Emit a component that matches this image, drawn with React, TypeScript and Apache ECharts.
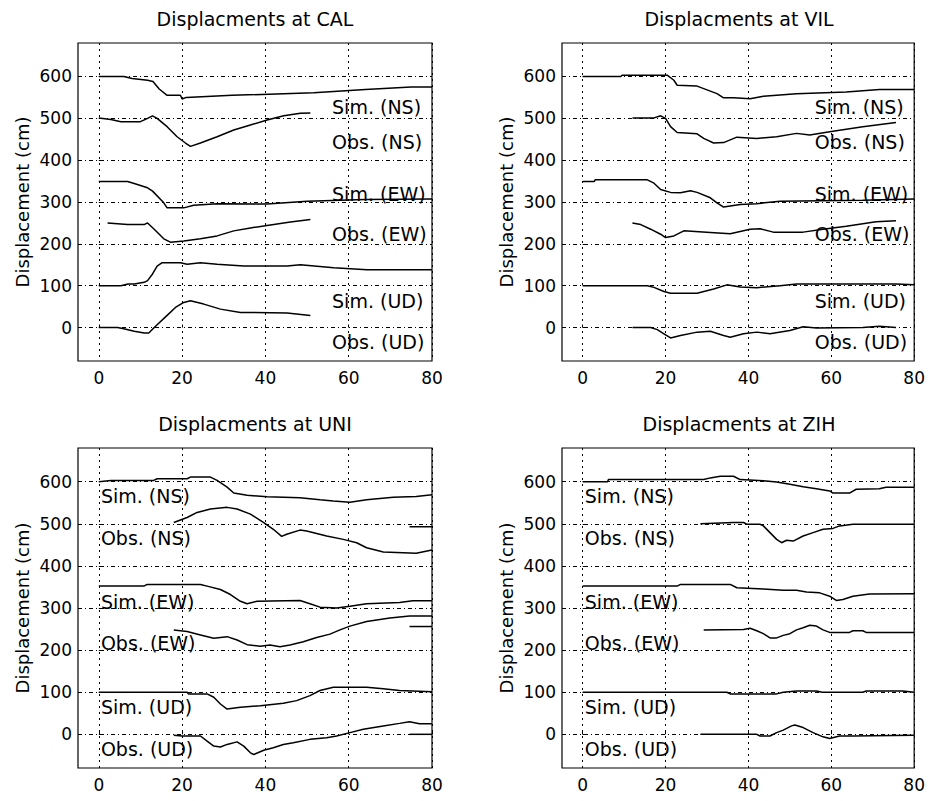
import React, { useEffect, useRef } from "react";
import * as echarts from "echarts";

const xTicks = [0, 20, 40, 60, 80];
const yTicks = [0, 100, 200, 300, 400, 500, 600];
const stations = ["CAL", "VIL", "UNI", "ZIH"];
const curveNames = ["Sim. (NS)", "Obs. (NS)", "Sim. (EW)", "Obs. (EW)", "Sim. (UD)", "Obs. (UD)"];

// label anchor positions [t, value] per station
const labelPosTop = [[56, 527], [56, 444], [56, 318], [56, 223], [56, 64], [56, -35]];
const labelPosBottom = [[0.5, 567], [0.5, 467], [0.5, 315], [0.5, 216], [0.5, 64], [0.5, -36]];

// ---- CAL ----
const calSimNS = [[0,600],[6,600],[8,595],[11.7,591],[13,588],[14.5,570],[16.4,555],[19.6,555],[20,546],[21,550],[32,555],[51.6,561],[64,569],[75,575],[80,575]];
const calObsNS = [[0,501],[2.9,497],[5.3,492],[10,492],[11.7,500],[12.9,506],[14,500],[16.4,480],[18.8,456],[20.8,441],[22,433],[24.4,441],[28.4,456],[32.4,472],[36.4,484],[40.4,496],[44.4,506],[48.4,512],[50.8,513]];
const calSimEW = [[0,349],[6.9,349],[8.5,344],[11.7,334],[12.9,326],[15.6,298],[16.4,286],[20.4,286],[22.8,292],[28.4,296],[40.4,295],[50,302],[64,306],[80,307]];
const calObsEW = [[2.1,250],[6.9,246],[10.9,246],[11.7,250],[13.3,235],[15.6,212],[17.2,204],[20.4,207],[24.4,212],[28.4,219],[32.4,231],[36.4,238],[40.4,244],[46,252],[50.8,258]];
const calSimUD = [[0,100],[5.3,100],[7,104],[8.5,104],[10.9,108],[11.7,112],[12.9,128],[14,147],[15.2,155],[19.6,155],[21.2,151],[24.4,155],[28.4,151],[34.8,147],[45.2,147],[48.4,150],[56.4,143],[64.4,138],[80,138]];
const calObsUD = [[0,0],[4.5,0],[6,-3],[8.5,-9],[10.9,-13],[12,-13],[13.3,0],[16.4,29],[18.4,48],[20.4,60],[22,64],[25.2,56],[29.2,44],[34,36],[45.2,35],[50.8,29]];

// ---- VIL ----
const vilSimNS = [[0,600],[9.2,600],[9.5,603],[20.4,603],[22,591],[22.8,579],[27.6,577],[29.2,571],[32.4,559],[34,549],[36.4,549],[40.4,547],[43.6,553],[51.6,559],[63.6,563],[71.6,569],[80,569]];
const vilObsNS = [[12,501],[17.2,501],[18.8,506],[20,500],[21.2,480],[22.8,466],[27.6,463],[29.2,452],[31.6,441],[34,442],[37.2,455],[42,452],[46.8,456],[51.6,464],[54.8,460],[59.6,468],[67.6,480],[75.6,490]];
const vilSimEW = [[0,349],[2.8,349],[3,353],[15.6,353],[17.2,345],[18.8,330],[21.2,323],[23.6,322],[26,327],[27.6,323],[30.8,310],[32.4,298],[34,288],[38,294],[42,296],[47.6,302],[67.6,304],[80,307]];
const vilObsEW = [[12,250],[14,246],[16.4,235],[18.8,223],[20,215],[22,219],[24.4,231],[30.8,227],[35.6,224],[40.4,235],[42.8,236],[46,228],[53.2,228],[58,235],[63.6,242],[70.8,253],[75.6,255]];
const vilSimUD = [[0,100],[15.6,100],[17.2,96],[19.6,86],[21.2,82],[27.6,82],[31.6,92],[34.8,102],[38,97],[42,95],[47.6,100],[51.6,104],[75.6,104],[80,102]];
const vilObsUD = [[12,0],[16.4,0],[18,-5],[19.6,-15],[21.2,-25],[23.6,-19],[27.6,-11],[30.8,-9],[34,-19],[35.6,-23],[38.8,-15],[42,-11],[45.2,-15],[50,-7],[53.2,2],[56.4,-1],[67.6,0],[71.6,3],[75.6,0]];

// ---- UNI ----
const uniSimNS = [[0,600],[2.9,603],[13.2,603],[14,607],[21.2,607],[22,611],[26.8,611],[28.4,603],[30.8,587],[32.4,573],[35.6,568],[40.4,564],[48.3,562],[53.1,557],[56.3,554],[60.3,551],[64.3,557],[70.7,563],[76.2,565],[80,569]];
const uniObsNS = [[18,503],[21.2,515],[23.6,527],[26.8,535],[30.8,539],[33.2,535],[36.4,523],[39.6,503],[41.9,487],[43.9,470],[45.1,475],[48.3,485],[49.9,483],[54.7,471],[58.7,463],[61.9,455],[64.3,443],[68.3,433],[76.2,430],[80,438]];
const uniObsNSStatic = [[74.6,493],[80,493]];
const uniSimEW = [[0,352],[10.8,352],[11.6,356],[24.4,356],[26,352],[29.2,344],[31.6,332],[34,316],[35.6,310],[38,316],[48.3,318],[50.7,310],[53.1,302],[57.1,300],[60.3,304],[64.3,310],[72.2,313],[75.4,317],[80,317]];
const uniObsEW = [[18,248],[21.2,244],[24.4,236],[27.6,228],[30.8,232],[33.2,224],[35.6,213],[38.8,209],[41.1,212],[43.5,208],[45.9,212],[49.1,220],[52.3,230],[55.5,238],[57.9,248],[60.3,257],[64.3,268],[69.9,276],[74.6,281],[80,281]];
const uniObsEWStatic = [[74.6,256],[80,256]];
const uniSimUD = [[0,100],[21.2,100],[21.5,96],[26,96],[27.6,88],[29.2,72],[30.8,60],[34,64],[38.8,68],[44.3,74],[47.5,80],[50.7,92],[53.1,104],[56.3,112],[64.3,112],[68.3,108],[72.2,104],[80,101]];
const uniObsUD = [[18,-2],[20,-4],[24.4,-4],[26,-16],[27.6,-28],[29.2,-30],[30.8,-24],[33.2,-18],[34.8,-28],[36.4,-44],[37.2,-48],[39.6,-38],[41.9,-32],[44.3,-24],[46.7,-20],[50.7,-12],[54.7,-8],[57.1,-4],[60.3,4],[63.5,12],[68.3,20],[72.2,26],[74.6,30],[77,25],[80,25]];
const uniObsUDStatic = [[74.6,0],[80,0]];

// ---- ZIH ----
const zihSimNS = [[0,600],[6,600],[6.2,605],[29.2,605],[30.8,609],[33.2,613],[36.4,613],[38,605],[43.6,602],[46.8,599],[50,594],[53.2,588],[56.4,583],[59.6,578],[60.4,573],[64.4,573],[66,582],[71.6,583],[73.2,587],[80,587]];
const zihObsNS = [[28.4,500],[36.4,503],[38.8,503],[39.6,499],[42.8,499],[43.6,495],[45.2,479],[46.8,463],[48,455],[49.2,461],[50.8,459],[53.2,471],[55.6,479],[58,487],[60.4,489],[62,495],[65.2,499],[80,499]];
const zihSimEW = [[0,352],[22.8,352],[23.6,356],[35.6,356],[37.2,348],[43.6,345],[48.4,342],[51.6,342],[54,338],[57.2,336],[59.6,328],[61.2,318],[62.8,320],[65.2,328],[69.2,333],[80,334]];
const zihObsEW = [[29.2,248],[38.8,249],[40.4,252],[42,246],[43.6,239],[45.2,229],[46.8,229],[48.4,235],[50,239],[51.6,248],[53.2,253],[54.8,259],[56.4,257],[58,248],[59.6,242],[64.4,242],[65.2,246],[67.6,246],[68.4,242],[80,242]];
const zihSimUD = [[0,100],[34.8,100],[35.6,96],[46.8,96],[48.4,100],[51.6,103],[56.4,103],[57.8,100],[67.6,100],[68.4,103],[77.2,103],[80,100]];
const zihObsUD = [[28.4,0],[42,0],[42.8,-4],[45.2,-4],[46.8,4],[48.4,10],[50.4,20],[51.2,22],[53.2,16],[55.6,4],[58,-6],[59.6,-10],[62,-4],[65.2,-4],[80,-2]];

const stationCurves = [
  [calSimNS, calObsNS, calSimEW, calObsEW, calSimUD, calObsUD],
  [vilSimNS, vilObsNS, vilSimEW, vilObsEW, vilSimUD, vilObsUD],
  [uniSimNS, uniObsNS, uniSimEW, uniObsEW, uniSimUD, uniObsUD, uniObsNSStatic, uniObsEWStatic, uniObsUDStatic],
  [zihSimNS, zihObsNS, zihSimEW, zihObsEW, zihSimUD, zihObsUD],
];
const stationLabelPos = [labelPosTop, labelPosTop, labelPosBottom, labelPosBottom];

const FONT = "DejaVu Sans";

const layouts = [
  { left: 78, top: 43, width: 354, height: 318, titleY: 9 },
  { left: 562, top: 43, width: 354, height: 318, titleY: 9 },
  { left: 78, top: 448, width: 354, height: 320, titleY: 414 },
  { left: 562, top: 448, width: 354, height: 320, titleY: 414 },
];

function buildOption() {
  const grid: any[] = [];
  const xAxis: any[] = [];
  const yAxis: any[] = [];
  const series: any[] = [];
  const title: any[] = [];
  stations.forEach((st, i) => {
    const L = layouts[i];
    grid.push({
      left: L.left, top: L.top, width: L.width, height: L.height,
      show: true, borderColor: "#000", borderWidth: 1.2, backgroundColor: "transparent",
      containLabel: false,
    });
    title.push({
      text: "Displacments at " + st,
      left: L.left + L.width / 2,
      top: L.titleY,
      textAlign: "center",
      padding: 0,
      textStyle: { fontFamily: FONT, fontSize: 19, fontWeight: "normal", color: "#000" },
    });
    xAxis.push({
      gridIndex: i, type: "value", min: -5, max: 80,
      axisLine: { show: false },
      axisTick: { show: true, inside: true, length: 3, customValues: xTicks, lineStyle: { color: "#000" } },
      axisLabel: { customValues: xTicks, fontFamily: FONT, fontSize: 17, color: "#000", margin: 8 },
      splitLine: { show: true, lineStyle: { color: "#000", width: 1, type: [2, 4] } },
    });
    yAxis.push({
      gridIndex: i, type: "value", min: -80, max: 680,
      name: "Displacement (cm)", nameLocation: "middle", nameGap: 47, nameRotate: 90,
      nameTextStyle: { fontFamily: FONT, fontSize: 18, color: "#000" },
      axisLine: { show: false },
      axisTick: { show: true, inside: true, length: 3, customValues: yTicks, lineStyle: { color: "#000" } },
      axisLabel: { customValues: yTicks, fontFamily: FONT, fontSize: 17, color: "#000", margin: 6 },
      splitLine: { show: true, lineStyle: { color: "#000", width: 1, type: [4, 3, 1, 3] } },
    });
    stationCurves[i].forEach((data) => {
      series.push({
        type: "line", xAxisIndex: i, yAxisIndex: i, data,
        showSymbol: false, symbol: "none", silent: true, z: 3,
        lineStyle: { color: "#000", width: 1.5 },
      });
    });
    series.push({
      type: "scatter", xAxisIndex: i, yAxisIndex: i, symbolSize: 0, silent: true, z: 4,
      itemStyle: { opacity: 1, color: "#000" },
      data: stationLabelPos[i].map((p, k) => ({ value: p, name: curveNames[k] })),
      label: {
        show: true, position: "right", distance: 0, formatter: "{b}", opacity: 1,
        fontFamily: FONT, fontSize: 19, color: "#000", verticalAlign: "middle",
      },
    });
  });
  return { animation: false, backgroundColor: "#fff", title, grid, xAxis, yAxis, series };
}

export default function App() {
  const ref = useRef<HTMLDivElement>(null);
  useEffect(() => {
    if (!ref.current) return;
    const chart = echarts.init(ref.current, undefined, { renderer: "svg" });
    chart.setOption(buildOption() as any);
    return () => chart.dispose();
  }, []);
  return (
    <div
      ref={ref}
      style={{ position: "fixed", left: 0, top: 0, width: 928, height: 801, background: "#fff" }}
    />
  );
}
